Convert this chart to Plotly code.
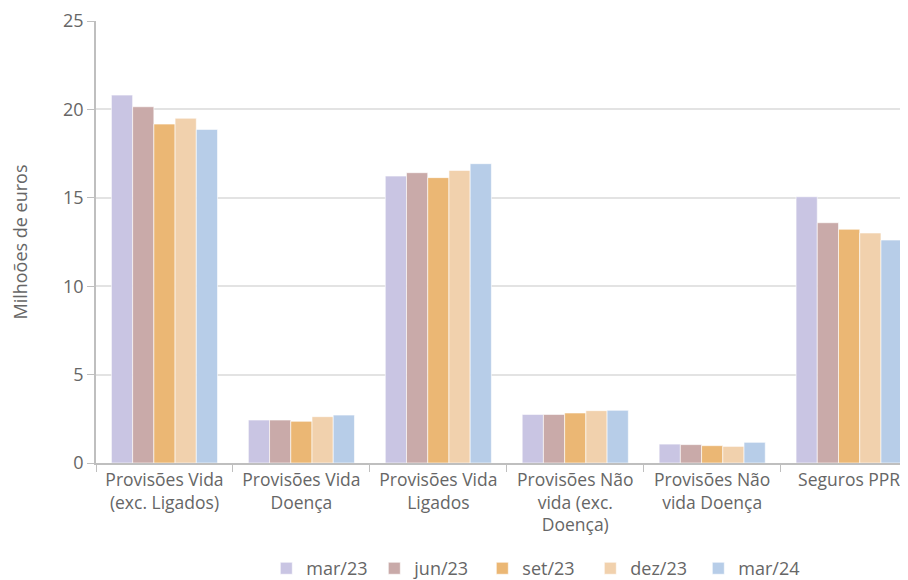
import plotly.graph_objects as go

categories = ["Provisões Vida<br>(exc. Ligados)", "Provisões Vida<br>Doença", "Provisões Vida<br>Ligados",
              "Provisões Não<br>vida (exc.<br>Doença)", "Provisões Não<br>vida Doença", "Seguros PPR"]
series_names = ["mar/23", "jun/23", "set/23", "dez/23", "mar/24"]
mar23 = [20.81, 2.43, 16.23, 2.75, 1.07, 15.06]
jun23 = [20.15, 2.43, 16.42, 2.75, 1.04, 13.59]
set23 = [19.17, 2.36, 16.14, 2.83, 0.98, 13.22]
dez23 = [19.50, 2.62, 16.55, 2.96, 0.94, 13.01]
mar24 = [18.87, 2.71, 16.93, 2.98, 1.17, 12.61]
y_ticks = [0, 5, 10, 15, 20, 25]

colors = ["#C9C5E3", "#C9AAA9", "#EBB774", "#F1D1AD", "#B7CDE8"]
values = [mar23, jun23, set23, dez23, mar24]

fig = go.Figure()
for name, vals, c in zip(series_names, values, colors):
    fig.add_trace(go.Bar(x=categories, y=vals, name=name, marker=dict(color=c, line=dict(color="rgba(255,255,255,0.6)", width=1))))

font = "'Open Sans', Lato, sans-serif"
fig.update_layout(
    width=900, height=572,
    margin=dict(l=88, r=0, t=13, b=117),
    paper_bgcolor="white", plot_bgcolor="white",
    barmode="group", bargap=0.225, bargroupgap=0,
    font=dict(family=font, size=18, color="#666666"),
    showlegend=True,
    legend=dict(orientation="h", x=0.587, xanchor="center", xref="container", yref="container",
                y=0.02, yanchor="middle", entrywidth=63,
                font=dict(size=18, color="#666666"), itemwidth=30, traceorder="normal"),
    xaxis=dict(range=[-0.5, 5.43], showline=True, linecolor="#BFBFBF", linewidth=1.5,
               ticks="outside", tickson="boundaries", ticklen=7, tickcolor="#BFBFBF",
               tickfont=dict(size=17.5, color="#666666"), showgrid=False, automargin=False),
    yaxis=dict(range=[0, 25], tickvals=y_ticks, showline=True, linecolor="#BFBFBF", linewidth=1.5,
               ticks="outside", ticklen=7, tickcolor="#BFBFBF", gridcolor="#E3E3E3", gridwidth=1.5,
               zeroline=False, tickfont=dict(size=18, color="#666666"), automargin=False,
               title=dict(text="Milhoões de euros", font=dict(size=18, color="#666666"), standoff=43)),
)

fig.write_html("out.html")
